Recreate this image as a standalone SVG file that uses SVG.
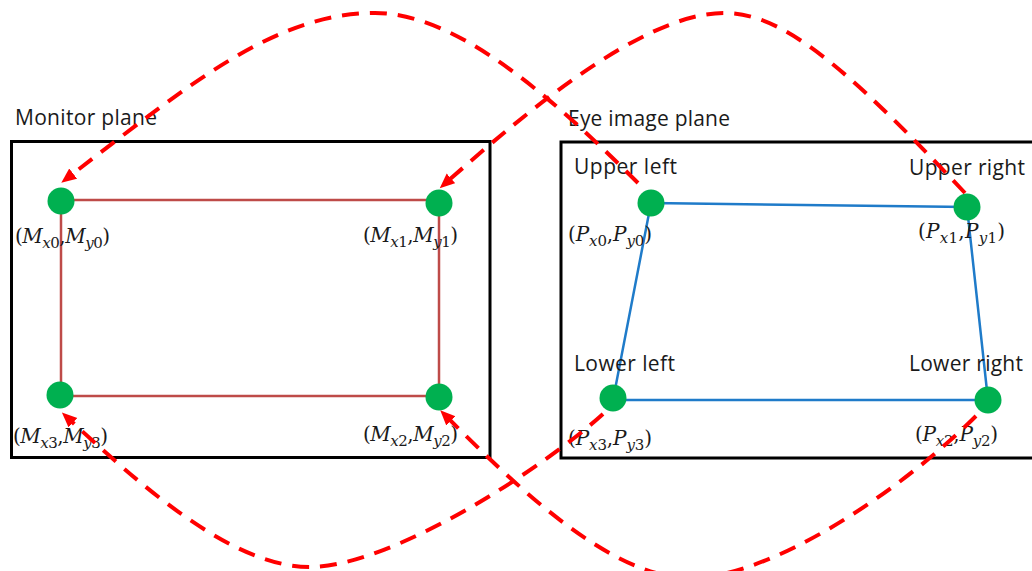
<svg xmlns="http://www.w3.org/2000/svg" width="1032" height="571" viewBox="0 0 1032 571">
<style>
.title{font-family:"Open Sans","Liberation Sans",sans-serif;font-size:21px;fill:#1a1a1a}
.frame{fill:none;stroke:#000;stroke-width:3}
.dot{fill:#00B050}
.math{font-family:"DejaVu Serif","Liberation Serif",serif;font-size:20px;fill:#1a1a1a}
.it{font-style:italic}
.sub{font-size:15px}
.mline{fill:none;stroke:#BE4B48;stroke-width:2.5}
.pline{fill:none;stroke:#1F7BC9;stroke-width:2.5}
.conn{fill:none;stroke:#FF0000;stroke-width:4;stroke-dasharray:17 11}
</style>
<defs>
<marker id="arr" markerUnits="userSpaceOnUse" markerWidth="16" markerHeight="14" refX="4" refY="6.5" orient="auto">
<path d="M0,0 L15,6.5 L0,13 z" fill="#FF0000"/>
</marker>
</defs>

<g id="monitor-plane">
<rect class="frame" x="11.5" y="141.5" width="478.5" height="316"/>
<text class="title" x="15" y="125" textLength="142">Monitor plane</text>
</g>
<g id="eye-plane">
<rect class="frame" x="561" y="142" width="480" height="316"/>
<text class="title" x="568" y="126" textLength="162">Eye image plane</text>
</g>

<g id="edges">
<rect class="mline" x="61" y="200" width="378" height="196"/>
<polyline class="pline" points="651,203 967,207 988,400 613,400 651,203"/>
</g>

<g id="M0">
<circle class="dot" cx="61" cy="201" r="13.5"/>
<text class="math" x="15" y="243" textLength="95">(<tspan class="it">M</tspan><tspan class="sub it" dy="5">x</tspan><tspan class="sub">0</tspan><tspan dy="-5">,</tspan><tspan class="it">M</tspan><tspan class="sub it" dy="5">y</tspan><tspan class="sub">0</tspan><tspan dy="-5">)</tspan></text>
</g>
<g id="M1">
<circle class="dot" cx="439" cy="203" r="13.5"/>
<text class="math" x="363" y="242" textLength="95">(<tspan class="it">M</tspan><tspan class="sub it" dy="5">x</tspan><tspan class="sub">1</tspan><tspan dy="-5">,</tspan><tspan class="it">M</tspan><tspan class="sub it" dy="5">y</tspan><tspan class="sub">1</tspan><tspan dy="-5">)</tspan></text>
</g>
<g id="M3">
<circle class="dot" cx="60" cy="395" r="13.5"/>
<text class="math" x="13" y="443" textLength="95">(<tspan class="it">M</tspan><tspan class="sub it" dy="5">x</tspan><tspan class="sub">3</tspan><tspan dy="-5">,</tspan><tspan class="it">M</tspan><tspan class="sub it" dy="5">y</tspan><tspan class="sub">3</tspan><tspan dy="-5">)</tspan></text>
</g>
<g id="M2">
<circle class="dot" cx="439" cy="397" r="13.5"/>
<text class="math" x="363" y="441" textLength="95">(<tspan class="it">M</tspan><tspan class="sub it" dy="5">x</tspan><tspan class="sub">2</tspan><tspan dy="-5">,</tspan><tspan class="it">M</tspan><tspan class="sub it" dy="5">y</tspan><tspan class="sub">2</tspan><tspan dy="-5">)</tspan></text>
</g>

<g id="P0">
<circle class="dot" cx="651" cy="203" r="13.5"/>
<text class="title" x="574" y="174" textLength="103">Upper left</text>
<text class="math" x="568" y="241" textLength="84">(<tspan class="it">P</tspan><tspan class="sub it" dy="5">x</tspan><tspan class="sub">0</tspan><tspan dy="-5">,</tspan><tspan class="it">P</tspan><tspan class="sub it" dy="5">y</tspan><tspan class="sub">0</tspan><tspan dy="-5">)</tspan></text>
</g>
<g id="P1">
<circle class="dot" cx="967" cy="207" r="13.5"/>
<text class="title" x="909" y="175" textLength="116">Upper right</text>
<text class="math" x="918" y="238" textLength="87">(<tspan class="it">P</tspan><tspan class="sub it" dy="5">x</tspan><tspan class="sub">1</tspan><tspan dy="-5">,</tspan><tspan class="it">P</tspan><tspan class="sub it" dy="5">y</tspan><tspan class="sub">1</tspan><tspan dy="-5">)</tspan></text>
</g>
<g id="P3">
<circle class="dot" cx="613" cy="398" r="13.5"/>
<text class="title" x="574" y="371" textLength="101">Lower left</text>
<text class="math" x="568" y="445" textLength="84">(<tspan class="it">P</tspan><tspan class="sub it" dy="5">x</tspan><tspan class="sub">3</tspan><tspan dy="-5">,</tspan><tspan class="it">P</tspan><tspan class="sub it" dy="5">y</tspan><tspan class="sub">3</tspan><tspan dy="-5">)</tspan></text>
</g>
<g id="P2">
<circle class="dot" cx="988" cy="400" r="13.5"/>
<text class="title" x="909" y="371" textLength="114">Lower right</text>
<text class="math" x="915" y="441" textLength="83">(<tspan class="it">P</tspan><tspan class="sub it" dy="5">x</tspan><tspan class="sub">2</tspan><tspan dy="-5">,</tspan><tspan class="it">P</tspan><tspan class="sub it" dy="5">y</tspan><tspan class="sub">2</tspan><tspan dy="-5">)</tspan></text>
</g>

<g id="connectors">
<path class="conn" marker-end="url(#arr)" d="M638,183 C548,93 455,13 375,13 C275,13 190,84 70,176"/>
<path class="conn" marker-end="url(#arr)" d="M965,193 C840,60 780,13 724,13 C640,13 515,122 448,181"/>
<path class="conn" marker-end="url(#arr)" d="M603,414 C541,470 390,567 310,567 C230,567 136,481 70,420"/>
<path class="conn" marker-end="url(#arr)" d="M976,416 C900,492 770,578 690,578 C610,578 515,485 448,418"/>
</g>
</svg>
